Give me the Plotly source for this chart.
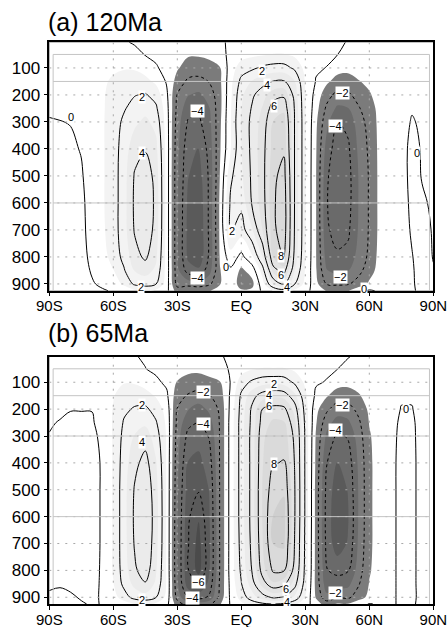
import numpy as np
import plotly.graph_objects as go

# ---------------- data ----------------
lats = list(range(-90, 91, 5))
levels = [5, 50, 100, 150, 200, 250, 300, 400, 500, 600, 700, 800, 850, 900, 925]

x_tickvals = [-90, -60, -30, 0, 30, 60, 90]
x_ticktext = ["90S", "60S", "30S", "EQ", "30N", "60N", "90N"]
y_tickvals = [100, 200, 300, 400, 500, 600, 700, 800, 900]
y_ticktext = ["100", "200", "300", "400", "500", "600", "700", "800", "900"]

panel_titles = ["(a) 120Ma", "(b) 65Ma"]

# streamfunction (10^10 kg/s), one column per latitude, values at `levels`
psi_120 = [
    [0.3, 0.3, 0.3, 0.3, 0.2, 0.1, -0.05, -0.2, -0.3, -0.3, -0.3, -0.3, -0.3, -0.2, -0.1],      # -90
    [0.4, 0.4, 0.4, 0.4, 0.3, 0.15, -0.02, -0.2, -0.3, -0.3, -0.3, -0.3, -0.3, -0.2, -0.1],     # -85
    [0.5, 0.5, 0.5, 0.5, 0.4, 0.25, 0.03, -0.15, -0.25, -0.25, -0.25, -0.25, -0.25, -0.2, -0.1],  # -80
    [0.5, 0.6, 0.6, 0.6, 0.6, 0.5, 0.35, 0.05, -0.1, -0.2, -0.2, -0.2, -0.2, -0.15, -0.1],     # -75
    [0.5, 0.7, 0.8, 0.8, 0.8, 0.8, 0.7, 0.6, 0.5, 0.4, 0.3, 0.15, 0.05, -0.05, -0.1],          # -70
    [0.4, 0.7, 0.85, 0.9, 0.9, 0.9, 0.9, 0.9, 0.9, 0.9, 0.85, 0.6, 0.4, 0.1, -0.05],           # -65
    [0.4, 0.6, 0.9, 1.1, 1.3, 1.4, 1.5, 1.5, 1.5, 1.5, 1.5, 1.4, 0.95, 0.4, 0.05],             # -60
    [0.1, 0.5, 0.95, 1.3, 1.6, 1.9, 2.2, 2.5, 2.6, 2.6, 2.6, 2.3, 1.9, 1.2, 0.3],              # -55
    [-0.1, 0.3, 0.9, 1.5, 1.95, 2.4, 2.8, 3.6, 4.1, 4.2, 4.1, 3.6, 3.05, 2.2, 0.8],            # -50
    [-0.3, -0.05, 0.6, 1.3, 2.1, 2.7, 3.2, 3.9, 4.7, 4.95, 4.8, 4.2, 3.4, 2.4, 1.2],           # -45
    [-0.4, -0.2, 0.1, 0.8, 1.6, 2.2, 2.7, 3.3, 3.6, 3.7, 3.6, 3.2, 2.8, 2.05, 0.8],            # -40
    [-0.5, -0.4, -0.3, -0.1, 0.2, 0.4, 0.5, 0.6, 0.6, 0.6, 0.6, 0.6, 0.6, 0.5, 0.3],           # -35
    [-0.6, -0.8, -0.9, -1.4, -2.05, -2.3, -2.5, -2.7, -2.8, -2.8, -2.8, -2.8, -2.7, -2.4, -1.5],  # -30
    [-0.6, -0.9, -1.4, -2.2, -2.95, -3.6, -4.1, -4.7, -4.95, -5.2, -5.3, -5.2, -4.5, -2.4, -1.1],  # -25
    [-0.6, -0.9, -1.5, -2.3, -3.2, -3.8, -4.2, -5.05, -5.5, -5.8, -5.9, -5.8, -4.8, -2.6, -1.2],   # -20
    [-0.5, -0.8, -1.3, -1.95, -2.6, -3.05, -3.3, -3.6, -3.8, -3.8, -3.8, -3.8, -3.4, -2.2, -1.05],  # -15
    [-0.2, -0.4, -1.05, -1.2, -1.3, -1.3, -1.2, -1.1, -0.95, -0.8, -0.8, -0.9, -1.05, -1.05, -0.6],  # -10
    [0.2, 0.3, 0.5, 0.7, 0.8, 0.9, 0.95, 0.95, 1.8, 2.2, 2.1, 0.6, -0.2, -0.4, -0.3],          # -5
    [0.3, 0.6, 1.5, 2.3, 2.8, 2.95, 3.1, 2.95, 2.8, 2.3, 1.5, -0.3, -1.2, -1.4, -0.9],         # 0
    [0.3, 0.8, 1.8, 3.05, 3.8, 4.1, 4.3, 4.3, 4.2, 4.1, 2.9, 0.8, -0.6, -1.3, -0.8],           # 5
    [0.3, 0.9, 2.2, 3.6, 4.6, 5.1, 5.4, 5.6, 5.6, 5.5, 5.05, 3.05, 1.5, 0.6, 0.2],            # 10
    [0.3, 1.05, 2.4, 4.05, 5.6, 6.5, 7.05, 7.4, 7.7, 7.8, 7.7, 7.05, 5.5, 3.05, 1.05],        # 15
    [0.3, 1.05, 2.4, 4.1, 5.8, 6.8, 7.4, 7.8, 8.5, 8.8, 8.8, 8.1, 6.5, 4.05, 1.5],            # 20
    [0.3, 0.8, 1.8, 3.05, 3.6, 3.9, 3.95, 3.95, 3.95, 3.95, 3.9, 3.6, 3.05, 2.05, 0.8],       # 25
    [0.3, 0.4, 0.7, 0.9, 1.05, 1.05, 1.1, 1.1, 1.1, 1.1, 1.1, 1.05, 0.9, 0.7, 0.3],           # 30
    [0.3, 0.25, 0.1, -0.05, -0.4, -0.6, -0.8, -0.9, -0.95, -0.95, -0.95, -0.95, -0.9, -0.7, -0.4],  # 35
    [0.25, 0.15, -0.02, -0.8, -1.6, -2.2, -2.7, -3.4, -3.8, -3.9, -3.8, -3.4, -2.95, -2.05, -1.05],  # 40
    [0.15, 0.02, -0.6, -1.4, -2.3, -3.2, -4.05, -4.6, -4.9, -4.95, -4.5, -3.8, -3.3, -2.2, -1.1],   # 45
    [-0.05, -0.3, -0.8, -1.3, -2.2, -3.05, -3.7, -4.2, -4.4, -4.4, -4.2, -3.7, -3.05, -2.1, -1.05],  # 50
    [-0.3, -0.4, -0.6, -1.05, -1.6, -2.1, -2.5, -2.8, -2.95, -2.95, -2.9, -2.6, -2.3, -1.6, -0.3],  # 55
    [-0.3, -0.4, -0.5, -0.8, -1.1, -1.4, -1.6, -1.8, -1.9, -1.9, -1.9, -1.8, -1.5, -0.8, 0.1],   # 60
    [-0.3, -0.3, -0.4, -0.5, -0.6, -0.7, -0.7, -0.7, -0.7, -0.7, -0.7, -0.6, -0.5, -0.3, -0.1],  # 65
    [-0.2, -0.3, -0.3, -0.4, -0.4, -0.4, -0.4, -0.4, -0.4, -0.4, -0.4, -0.3, -0.3, -0.2, -0.1],  # 70
    [-0.2, -0.2, -0.3, -0.3, -0.3, -0.3, -0.25, -0.2, -0.2, -0.2, -0.2, -0.2, -0.2, -0.15, -0.1],  # 75
    [-0.2, -0.2, -0.2, -0.2, -0.15, -0.05, 0.05, 0.15, 0.15, 0.1, 0.05, -0.02, -0.05, -0.05, -0.05],  # 80
    [-0.2, -0.2, -0.2, -0.2, -0.2, -0.2, -0.1, -0.05, -0.03, 0.05, 0.15, 0.2, 0.2, 0.15, 0.1],   # 85
    [-0.1, -0.1, -0.1, -0.1, -0.1, -0.1, -0.1, -0.1, -0.08, -0.06, -0.04, -0.02, 0.03, 0.05, 0.05],  # 90
]

psi_65 = [
    [0.3, 0.3, 0.3, 0.25, 0.15, 0.05, -0.02, -0.15, -0.2, -0.2, -0.2, -0.15, -0.05, 0.05, 0.1],   # -90
    [0.4, 0.4, 0.35, 0.25, 0.1, -0.03, -0.1, -0.2, -0.25, -0.25, -0.2, -0.1, -0.02, 0.05, 0.1],   # -85
    [0.4, 0.4, 0.35, 0.2, 0.02, -0.1, -0.15, -0.25, -0.3, -0.3, -0.25, -0.15, -0.05, 0.03, 0.05],  # -80
    [0.4, 0.4, 0.35, 0.2, 0.02, -0.1, -0.15, -0.2, -0.25, -0.25, -0.2, -0.15, -0.1, -0.02, 0.02],  # -75
    [0.4, 0.4, 0.35, 0.2, 0.02, -0.08, -0.1, -0.15, -0.15, -0.15, -0.15, -0.12, -0.1, -0.05, -0.02],  # -70
    [0.4, 0.5, 0.5, 0.45, 0.4, 0.3, 0.1, 0.05, 0.05, 0.05, 0.05, 0.05, 0.05, 0.03, 0.01],        # -65
    [0.4, 0.6, 0.9, 0.95, 1.05, 1.1, 1.1, 1.1, 1.1, 1.1, 1.1, 1.1, 0.95, 0.6, 0.2],             # -60
    [0.3, 0.5, 0.95, 1.4, 1.8, 2.1, 2.3, 2.5, 2.6, 2.6, 2.6, 2.5, 2.3, 1.5, 0.5],               # -55
    [0.05, 0.3, 0.9, 1.6, 2.1, 2.6, 3.05, 3.7, 4.1, 4.2, 4.1, 3.8, 3.3, 2.4, 0.95],            # -50
    [-0.1, 0.02, 0.6, 1.4, 2.2, 2.8, 3.5, 4.4, 4.8, 4.95, 4.9, 4.6, 3.9, 2.6, 1.2],            # -45
    [-0.3, -0.2, 0.2, 0.9, 1.6, 2.1, 2.5, 3.1, 3.4, 3.5, 3.4, 3.1, 2.8, 2.05, 0.8],             # -40
    [-0.4, -0.3, -0.2, 0.2, 0.6, 0.8, 0.9, 0.9, 0.9, 0.9, 0.9, 0.9, 0.9, 0.7, 0.3],             # -35
    [-0.5, -0.7, -1.05, -1.6, -2.05, -2.3, -2.5, -2.7, -2.8, -2.9, -2.95, -2.95, -2.8, -2.4, -1.5],  # -30
    [-0.5, -0.8, -1.3, -2.1, -2.95, -3.7, -4.3, -5.05, -5.5, -5.8, -5.9, -5.9, -5.6, -4.05, -2.5],  # -25
    [-0.5, -0.8, -1.4, -2.4, -3.4, -4.05, -4.6, -5.3, -5.9, -6.9, -7.4, -7.4, -6.05, -4.5, -2.5],  # -20
    [-0.4, -0.7, -1.2, -2.05, -2.8, -3.4, -3.9, -4.5, -4.95, -5.1, -5.2, -5.1, -4.7, -3.8, -2.2],  # -15
    [-0.1, -0.3, -1.05, -1.5, -1.8, -1.9, -1.9, -1.9, -1.9, -1.9, -1.9, -1.9, -1.8, -1.6, -1.1],  # -10
    [0.2, 0.1, 0.05, 0.2, 0.3, 0.4, 0.4, 0.4, 0.4, 0.4, 0.4, 0.4, 0.3, 0.2, 0.1],              # -5
    [0.3, 0.6, 1.5, 2.2, 2.4, 2.5, 2.5, 2.5, 2.5, 2.5, 2.4, 2.2, 1.95, 1.4, 0.8],              # 0
    [0.3, 0.9, 2.2, 3.6, 4.2, 4.3, 4.4, 4.4, 4.4, 4.4, 4.3, 4.05, 3.5, 2.6, 1.4],              # 5
    [0.3, 1.05, 2.6, 4.5, 6.05, 6.5, 6.8, 6.95, 7.1, 7.1, 6.95, 6.5, 5.5, 3.5, 1.8],           # 10
    [0.3, 1.05, 2.7, 4.8, 6.4, 7.2, 7.6, 7.95, 8.6, 9.05, 9.05, 8.2, 6.8, 4.2, 2.05],          # 15
    [0.3, 1.05, 2.6, 4.6, 6.3, 7.1, 7.6, 8.05, 8.9, 9.3, 9.2, 8.1, 6.3, 3.9, 1.8],             # 20
    [0.3, 0.8, 1.8, 3.3, 4.6, 5.3, 5.7, 5.95, 6.1, 6.1, 5.95, 5.5, 4.5, 2.8, 1.2],             # 25
    [0.3, 0.4, 0.8, 1.2, 1.5, 1.7, 1.8, 1.8, 1.8, 1.8, 1.7, 1.6, 1.4, 0.95, 0.5],              # 30
    [0.3, 0.25, 0.1, -0.2, -0.7, -0.9, -1.1, -1.2, -1.3, -1.3, -1.3, -1.3, -1.3, -1.1, -0.6],   # 35
    [0.25, 0.15, -0.05, -0.9, -1.8, -2.6, -3.2, -3.95, -4.3, -4.4, -4.3, -3.95, -3.6, -2.7, -1.4],  # 40
    [0.15, 0.02, -0.6, -1.5, -2.5, -3.4, -4.2, -5.05, -5.6, -5.8, -5.6, -4.3, -3.5, -2.1, -0.9],  # 45
    [0.05, -0.3, -0.7, -1.5, -2.4, -3.2, -3.9, -4.6, -4.95, -5.1, -4.9, -4.1, -3.3, -2.2, -0.95],  # 50
    [-0.2, -0.4, -0.6, -1.1, -1.7, -2.2, -2.5, -2.8, -2.9, -2.9, -2.8, -2.5, -2.1, -1.5, -0.3],  # 55
    [-0.3, -0.3, -0.4, -0.6, -0.8, -0.95, -1.1, -1.2, -1.2, -1.2, -1.2, -1.1, -0.95, -0.7, 0.05],  # 60
    [-0.3, -0.3, -0.3, -0.4, -0.5, -0.5, -0.5, -0.5, -0.5, -0.5, -0.5, -0.5, -0.4, -0.3, -0.1],  # 65
    [-0.2, -0.2, -0.2, -0.2, -0.2, -0.2, -0.2, -0.2, -0.2, -0.2, -0.2, -0.2, -0.2, -0.15, -0.1],  # 70
    [-0.2, -0.15, -0.1, -0.05, 0.02, 0.1, 0.15, 0.2, 0.2, 0.2, 0.2, 0.2, 0.2, 0.15, 0.1],      # 75
    [-0.2, -0.15, -0.1, -0.05, 0.02, 0.08, 0.1, 0.12, 0.12, 0.12, 0.12, 0.12, 0.12, 0.1, 0.05],  # 80
    [-0.2, -0.2, -0.2, -0.2, -0.2, -0.2, -0.2, -0.2, -0.2, -0.2, -0.2, -0.2, -0.2, -0.15, -0.1],  # 85
    [-0.1, -0.1, -0.1, -0.1, -0.1, -0.1, -0.1, -0.1, -0.1, -0.1, -0.1, -0.1, -0.1, -0.1, -0.1],  # 90
]

# contour labels as drawn in the reference (latitude, pressure, text)
label_lat_a = [-80, -46.4, -46.4, -47, -20.6, -20.6, -4.2, -7.4, 9.8, 12.2, 15.3, 18.4, 18.6, 21.6, 47.3, 44.2, 46.5, 57.5, 82.5]
label_p_a = [280, 208, 415, 910, 261, 878, 705, 836, 113, 162, 242, 798, 868, 912, 193, 314, 875, 917, 415]
label_txt_a = ["0", "2", "4", "2", "\u22124", "\u22124", "2", "0", "2", "4", "6", "8", "6", "4", "\u22122", "\u22124", "\u22122", "0", "0"]

label_lat_b = [-46.4, -46.4, -46.4, -17.5, -17.5, -19.9, -23, 15.3, 12.9, 12.9, 15.3, 20.8, 21.6, 47.3, 44.2, 44.2, 77]
label_p_b = [186, 323, 910, 137, 254, 842, 902, 108, 146, 190, 403, 868, 917, 184, 279, 885, 201]
label_txt_b = ["2", "4", "2", "\u22122", "\u22124", "\u22126", "\u22124", "2", "4", "6", "8", "6", "4", "\u22122", "\u22124", "\u22122", "0"]

# gray reference lines drawn in each panel (pressure levels)
ref_lines_a = [50, 150, 600]
ref_lines_b = [50, 150, 300, 600]

# shading: bands between odd levels -7 ... 9
shade_colors = ["#4b4b4b", "#5a5a5a", "#6a6a6a", "#7b7b7b", "#ffffff",
                "#f3f3f3", "#ebebeb", "#e3e3e3", "#dadada", "#cfcfcf"]

# ---------------- figure ----------------
W, H = 448, 627
FONT = "Liberation Sans, Arial, Helvetica"

x_dom = [49.3 / W, 433.3 / W]
y_doms = [[1 - 290.7 / H, 1 - 42.3 / H], [1 - 604.0 / H, 1 - 356.7 / H]]

colorscale = [[k / (len(shade_colors) - 1), c] for k, c in enumerate(shade_colors)]

fig = go.Figure()
shapes = []
annotations = []

panels = [(psi_120, panel_titles[0], ref_lines_a, label_lat_a, label_p_a, label_txt_a),
          (psi_65, panel_titles[1], ref_lines_b, label_lat_b, label_p_b, label_txt_b)]

for i, (psi, title, refl, llat, lp, ltxt) in enumerate(panels):
    z = np.array(psi).T
    xa = "x" if i == 0 else "x2"
    ya = "y" if i == 0 else "y2"
    fig.add_trace(go.Contour(
        x=lats, y=levels, z=z, xaxis=xa, yaxis=ya,
        autocontour=False,
        contours=dict(start=-7, end=9, size=2, coloring="fill", showlines=False),
        colorscale=colorscale, showscale=False, line=dict(width=0, smoothing=1),
        hoverinfo="skip"))
    fig.add_trace(go.Contour(
        x=lats, y=levels, z=z, xaxis=xa, yaxis=ya,
        autocontour=False,
        contours=dict(start=0, end=8, size=2, coloring="none", showlines=True),
        line=dict(color="black", width=1, smoothing=1),
        showscale=False, hoverinfo="skip"))
    fig.add_trace(go.Contour(
        x=lats, y=levels, z=z, xaxis=xa, yaxis=ya,
        autocontour=False,
        contours=dict(start=-8, end=-2, size=2, coloring="none", showlines=True),
        line=dict(color="black", width=1, dash="3px,3px", smoothing=1),
        showscale=False, hoverinfo="skip"))

    # dotted grid
    for xv in x_tickvals[1:-1]:
        shapes.append(dict(type="line", xref=xa, yref=ya, x0=xv, x1=xv, y0=5, y1=925,
                           line=dict(color="#a8a8a8", width=1, dash="2px,6px"), layer="above"))
    for yv in y_tickvals:
        shapes.append(dict(type="line", xref=xa, yref=ya, x0=-90, x1=90, y0=yv, y1=yv,
                           line=dict(color="#a8a8a8", width=1, dash="2px,6px"), layer="above"))
    # light gray reference frame
    for yv in refl:
        shapes.append(dict(type="line", xref=xa, yref=ya, x0=-88.2, x1=88.2, y0=yv, y1=yv,
                           line=dict(color="#c4c4c4", width=1), layer="above"))
    for xv in (-88.2, 88.2):
        shapes.append(dict(type="line", xref=xa, yref=ya, x0=xv, x1=xv, y0=refl[0], y1=925,
                           line=dict(color="#c4c4c4", width=1), layer="above"))

    # contour labels
    for la, pv, tx in zip(llat, lp, ltxt):
        annotations.append(dict(text=tx, xref=xa, yref=ya, x=la, y=pv, showarrow=False,
                                bgcolor="white", borderpad=0,
                                font=dict(family=FONT, size=11, color="black")))

    annotations.append(dict(text=title, xref="paper", yref="paper",
                            x=45.5 / W, y=1 - (38 if i == 0 else 349) / H,
                            xanchor="left", yanchor="bottom", showarrow=False,
                            font=dict(family=FONT, size=25, color="black")))

axis_common = dict(showline=True, mirror=True, linecolor="black", linewidth=1.5,
                   ticks="outside", ticklen=4, tickcolor="black", showgrid=False,
                   zeroline=False, automargin=False)

fig.update_layout(
    width=W, height=H, autosize=False,
    margin=dict(l=0, r=0, t=0, b=0, pad=0),
    paper_bgcolor="white", plot_bgcolor="white",
    showlegend=False,
    shapes=shapes, annotations=annotations,
    xaxis=dict(domain=x_dom, range=[-90, 90], anchor="y", tickvals=x_tickvals,
               ticktext=x_ticktext, tickfont=dict(family=FONT, size=15, color="black"),
               ticklabelstandoff=-3, **axis_common),
    yaxis=dict(domain=y_doms[0], range=[925, 5], anchor="x", tickvals=y_tickvals,
               ticktext=y_ticktext, tickfont=dict(family=FONT, size=17, color="black"),
               **axis_common),
    xaxis2=dict(domain=x_dom, range=[-90, 90], anchor="y2", tickvals=x_tickvals,
                ticktext=x_ticktext, tickfont=dict(family=FONT, size=15, color="black"),
                ticklabelstandoff=-3, **axis_common),
    yaxis2=dict(domain=y_doms[1], range=[925, 5], anchor="x2", tickvals=y_tickvals,
                ticktext=y_ticktext, tickfont=dict(family=FONT, size=17, color="black"),
                **axis_common),
)

fig.write_html("out.html", config={"displayModeBar": False},
               post_script="document.body.style.margin='0px';")
